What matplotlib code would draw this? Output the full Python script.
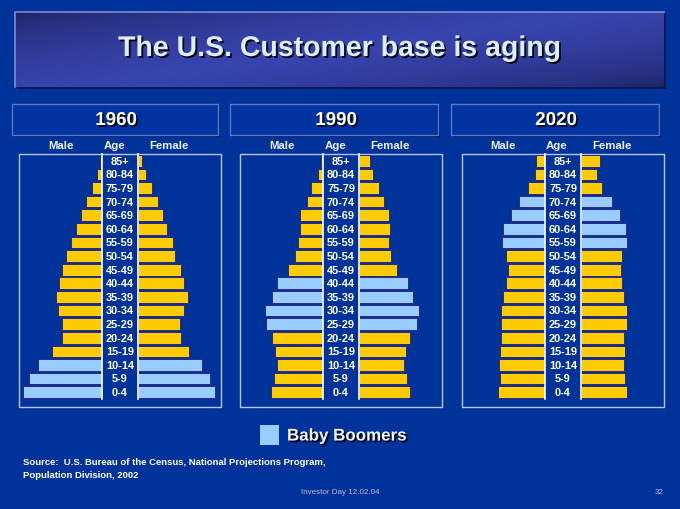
import matplotlib
matplotlib.use('Agg')
import matplotlib.pyplot as plt
import matplotlib.patheffects as pe
from matplotlib.patches import Rectangle
import numpy as np

# ---------------- data (percent of total population) ----------------
age_groups = ['0-4', '5-9', '10-14', '15-19', '20-24', '25-29', '30-34', '35-39',
              '40-44', '45-49', '50-54', '55-59', '60-64', '65-69', '70-74',
              '75-79', '80-84', '85+']
years = ['1960', '1990', '2020']

male_1960 = [5.72, 5.29, 4.66, 3.62, 2.90, 2.90, 3.19, 3.31, 3.09, 2.90, 2.61, 2.27,
             1.88, 1.54, 1.16, 0.70, 0.36, 0.17]
female_1960 = [5.60, 5.20, 4.64, 3.70, 3.12, 3.04, 3.31, 3.60, 3.31, 3.12, 2.70, 2.51,
               2.10, 1.83, 1.43, 1.01, 0.60, 0.31]
male_1990 = [3.75, 3.53, 3.31, 3.48, 3.72, 4.15, 4.22, 3.72, 3.31, 2.56, 2.01, 1.81,
             1.69, 1.69, 1.18, 0.85, 0.38, 0.17]
female_1990 = [3.70, 3.50, 3.28, 3.43, 3.70, 4.22, 4.37, 3.89, 3.55, 2.73, 2.32, 2.17,
               2.25, 2.17, 1.79, 1.43, 1.01, 0.82]
male_2020 = [3.43, 3.26, 3.36, 3.26, 3.21, 3.21, 3.21, 3.07, 2.80, 2.66, 2.80, 3.09,
             3.02, 2.46, 1.91, 1.25, 0.75, 0.63]
female_2020 = [3.33, 3.19, 3.14, 3.19, 3.14, 3.33, 3.33, 3.14, 2.99, 2.88, 2.99, 3.36,
               3.28, 2.80, 2.22, 1.54, 1.14, 1.36]

boomers_1960 = ['0-4', '5-9', '10-14']
boomers_1990 = ['25-29', '30-34', '35-39', '40-44']
boomers_2020 = ['55-59', '60-64', '65-69', '70-74']

title = 'The U.S. Customer base is aging'
legend_label = 'Baby Boomers'
source_lines = ['Source:  U.S. Bureau of the Census, National Projections Program,',
                'Population Division, 2002']
footer = 'Investor Day 12.02.04'
page = '32'

# ---------------- style ----------------
BG = '#003399'
YELLOW = '#FFCC00'
BLUE = '#99CCFF'
EDGE = '#2a2a80'
FONT = 'Liberation Sans'
W_PX, H_PX = 680, 510
PX_PER_UNIT = 13.8
XMAX = 6.0

fig = plt.figure(figsize=(6.8, 5.1), dpi=100, facecolor=BG)
bg = fig.add_axes([0, 0, 1, 1], zorder=0)
bg.set_xlim(0, W_PX)
bg.set_ylim(H_PX, 0)
bg.axis('off')
bg.set_facecolor(BG)

shadow = [pe.SimplePatchShadow(offset=(1.3, -1.3), shadow_rgbFace='black', alpha=0.9),
          pe.Normal()]

# ---- title box with gradient ----
tx0, tx1, ty0, ty1 = 15, 664, 13, 88
bg.add_patch(Rectangle((tx0 + 2, ty0 + 2), tx1 - tx0, ty1 - ty0, facecolor='#0a1a55',
                       edgecolor='none', zorder=1))
gx = np.linspace(0, 1, 300)
gy = np.linspace(0, 1, 60)
GX, GY = np.meshgrid(gx, gy)
u = (GX * 0.55 + GY * 0.45)
t = np.clip(1 - np.abs(2 * u - 1), 0, 1) ** 0.5
dark = np.array([0x1a, 0x1f, 0x5a]) / 255
light = np.array([0x38, 0x45, 0xb0]) / 255
img = dark[None, None, :] + (light - dark)[None, None, :] * t[:, :, None]
bg.imshow(img, extent=[tx0, tx1, ty1, ty0], aspect='auto', zorder=2, interpolation='bilinear')
bg.plot([tx0, tx0, tx1], [ty1, ty0, ty0], color='#7d8ad8', lw=1.2, zorder=3)
bg.text((tx0 + tx1) / 2, 50, title, ha='center', va='center', fontsize=20.5,
        fontweight='bold', family=FONT, color='#DDEEFF', zorder=4, path_effects=shadow)

# ---- panels ----
panels = [
    dict(year='1960', male=male_1960, female=female_1960, boom=boomers_1960,
         box=(12, 218), frame=(19, 221), L=102, R=138,
         hdr=(61, 115, 169), yx=116),
    dict(year='1990', male=male_1990, female=female_1990, boom=boomers_1990,
         box=(230, 438), frame=(240, 442), L=323, R=359,
         hdr=(282, 336, 390), yx=336),
    dict(year='2020', male=male_2020, female=female_2020, boom=boomers_2020,
         box=(451, 659), frame=(462, 664), L=545, R=581,
         hdr=(503, 557, 612), yx=556),
]

ax_top, ax_bot = 155, 400
y = np.arange(len(age_groups))
Wax = XMAX * PX_PER_UNIT

def fig_rect(x0, y0, x1, y1):
    return [x0 / W_PX, 1 - y1 / H_PX, (x1 - x0) / W_PX, (y1 - y0) / H_PX]

for p in panels:
    bx0, bx1 = p['box']
    bg.add_patch(Rectangle((bx0 + 2, 107), bx1 - bx0, 31, facecolor='#001a66',
                           edgecolor='none', zorder=1))
    bg.add_patch(Rectangle((bx0, 105), bx1 - bx0, 31, facecolor='#0033a0',
                           edgecolor='#5a78c8', lw=1.0, zorder=2))
    bg.text(p['yx'], 121.5, p['year'], ha='center', va='center', fontsize=13.5,
            fontweight='bold', family=FONT, color='white', zorder=4, path_effects=shadow)
    for lab, hx in zip(['Male', 'Age', 'Female'], p['hdr']):
        bg.text(hx, 146.5, lab, ha='center', va='center', fontsize=8.2,
                fontweight='bold', family=FONT, color='#EEF2FF', zorder=4)
    fx0, fx1 = p['frame']
    bg.add_patch(Rectangle((fx0, 155), fx1 - fx0, 253, facecolor='none',
                           edgecolor='#B8C4EE', lw=1.0, zorder=2))
    colors = [BLUE if a in p['boom'] else YELLOW for a in age_groups]

    axm = fig.add_axes(fig_rect(p['L'] - Wax, ax_top, p['L'], ax_bot), zorder=3)
    axf = fig.add_axes(fig_rect(p['R'], ax_top, p['R'] + Wax, ax_bot), zorder=3)
    axm.barh(y, p['male'], height=0.86, color=colors, edgecolor=EDGE, linewidth=0.7)
    axf.barh(y, p['female'], height=0.86, color=colors, edgecolor=EDGE, linewidth=0.7)
    axm.set_xlim(XMAX, 0)
    axf.set_xlim(0, XMAX)
    for a in (axm, axf):
        a.set_ylim(-0.5, len(age_groups) - 0.5)
        a.set_facecolor('none')
        a.set_xticks([])
        a.set_yticks([])
        for s in a.spines.values():
            s.set_visible(False)
    axm.spines['right'].set_visible(True)
    axm.spines['right'].set_color('white')
    axm.spines['right'].set_linewidth(1.2)
    axf.spines['left'].set_visible(True)
    axf.spines['left'].set_color('white')
    axf.spines['left'].set_linewidth(1.2)
    # age labels in the center column
    cx = (p['L'] + p['R']) / 2
    for i, a in enumerate(age_groups):
        yp = 393 - i * (393 - 161.7) / (len(age_groups) - 1)
        bg.text(cx, yp, a, ha='center', va='center', fontsize=7.9, fontweight='bold',
                family=FONT, color='white', zorder=4)

# ---- legend ----
bg.add_patch(Rectangle((260, 426), 19, 20, facecolor=BLUE, edgecolor='none', zorder=2))
bg.text(287, 437, legend_label, ha='left', va='center', fontsize=12.2, fontweight='bold',
        family=FONT, color='#F0F4FF', zorder=4, path_effects=shadow)

# ---- source / footer ----
for k, line in enumerate(source_lines):
    bg.text(23, 463 + k * 13, line, ha='left', va='center', fontsize=6.8,
            fontweight='bold', family=FONT, color='white', zorder=4)
bg.text(340, 493, footer, ha='center', va='center', fontsize=5.8,
        family=FONT, color='#B8BCD8', zorder=4)
bg.text(659, 493, page, ha='center', va='center', fontsize=5.8,
        family=FONT, color='#B8BCD8', zorder=4)

fig.savefig('out.png', dpi=100, facecolor=BG)
